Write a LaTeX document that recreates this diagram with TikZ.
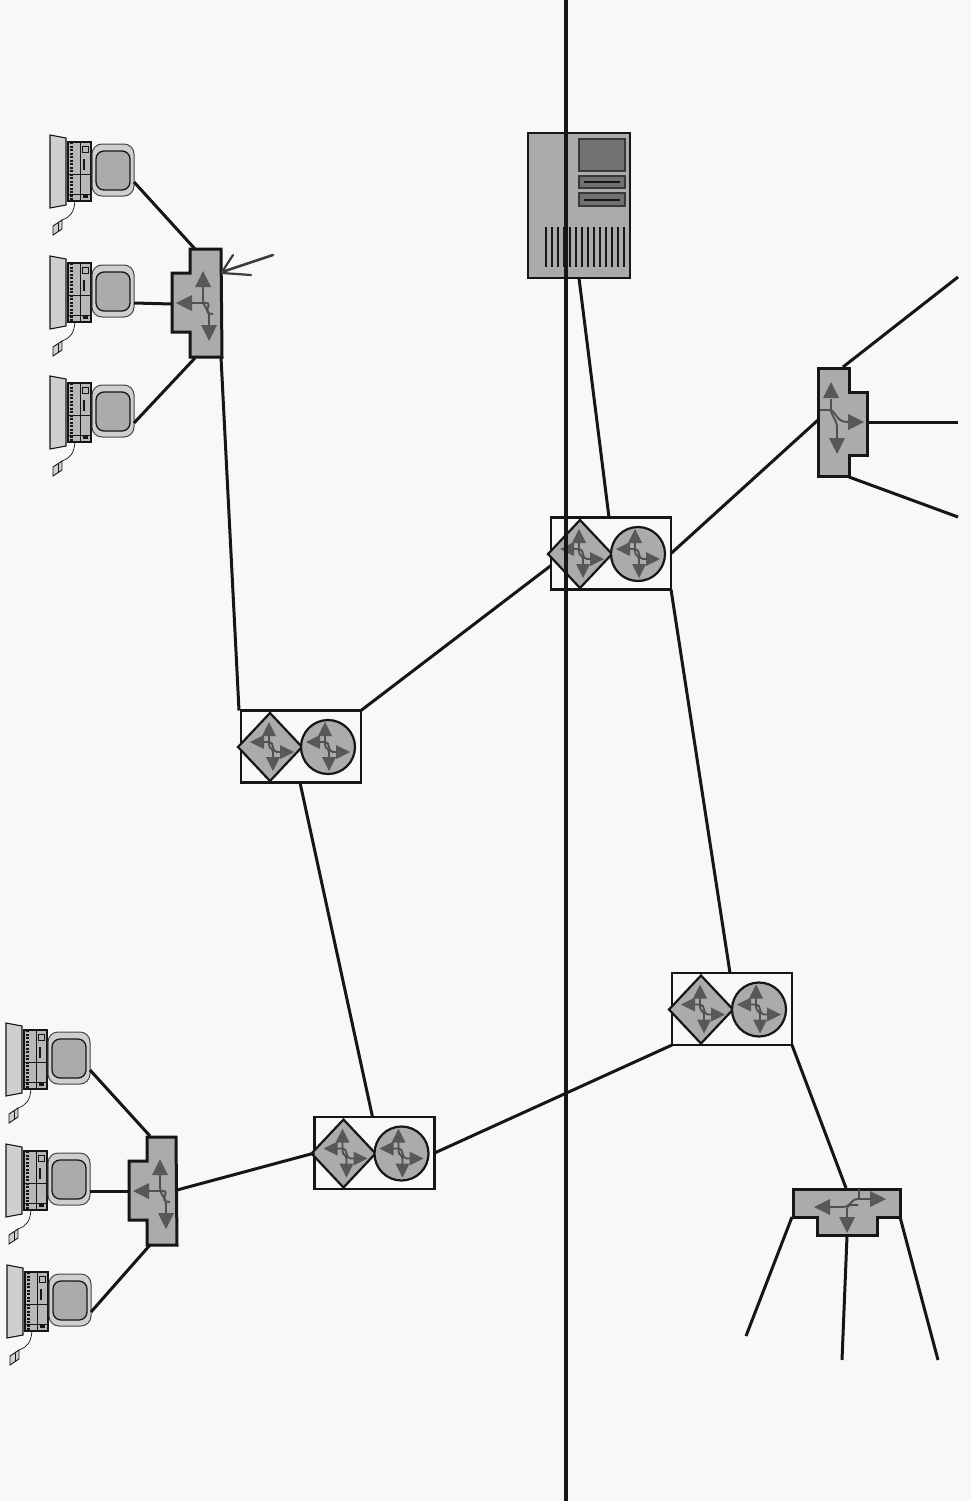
\documentclass[tikz,border=0pt]{standalone}
\usetikzlibrary{calc}
\definecolor{paper}{HTML}{F8F8F7}
\definecolor{screen}{HTML}{ABABAB}
\definecolor{lightscr}{HTML}{CFCFCF}
\definecolor{ink}{HTML}{161616}
\definecolor{hdc}{HTML}{585858}
\tikzset{
  wire/.style={draw=ink,line width=3pt},
  shp/.style={draw=ink,line width=3pt,fill=screen,line join=miter},
  hd/.style={fill=hdc},
  stem/.style={draw=ink!75,line width=1.9pt},
  rbox/.style={draw=ink,line width=2.8pt,fill=paper,minimum width=120pt,minimum height=72pt,inner sep=0pt,outer sep=0pt},
}
\newcommand{\hU}[2]{\fill[hd] (#1,#2) -- ++(-8,16) -- ++(16,0) -- cycle;}
\newcommand{\hD}[2]{\fill[hd] (#1,#2) -- ++(-8,-16) -- ++(16,0) -- cycle;}
\newcommand{\hL}[2]{\fill[hd] (#1,#2) -- ++(16,-8) -- ++(0,16) -- cycle;}
\newcommand{\hR}[2]{\fill[hd] (#1,#2) -- ++(-16,-8) -- ++(0,16) -- cycle;}
\tikzset{
  routicon/.pic={
    \draw[stem] (-1,-13) -- (-1,-3) .. controls (-1,3) and (3,0) .. (3,6) -- (3,13);
    \draw[stem] (-8,-5) -- (-1,-5) .. controls (5,-5) and (1,5) .. (7,5) -- (13,5);
    \fill[hd] (-1,-25) -- ++(-7,14) -- ++(14,0) -- cycle;
    \fill[hd] (3,24) -- ++(-7,-14) -- ++(14,0) -- cycle;
    \fill[hd] (-20,-5) -- ++(14,-7) -- ++(0,14) -- cycle;
    \fill[hd] (24,5) -- ++(-14,-7) -- ++(0,14) -- cycle;
  },
  computer/.pic={
    \draw[draw=ink,line width=1.1pt,fill=lightscr] (0,0) -- (16,3) -- (16,70) -- (0,73) -- cycle;
    \draw[draw=ink,line width=1.1pt,fill=screen!85] (18,7) rectangle (41,66);
    \draw[ink,line width=0.9pt] (30,7) -- (30,66) (18,39) -- (41,39) (18,59) -- (41,59);
    \draw[ink,line width=3pt,dash pattern=on 2pt off 1.5pt] (21,7) -- (21,66);
    \draw[ink,line width=0.8pt] (32,11) rectangle (38,17);
    \draw[ink,line width=1.5pt] (34,24) -- (34,35);
    \fill[ink] (33,59) rectangle (38,63);
    \draw[draw=ink!80,line width=1pt,fill=lightscr,rounded corners=10pt] (42,9) rectangle (84,61);
    \draw[draw=ink,line width=1.3pt,fill=screen,rounded corners=8pt] (46,16) rectangle (80,55);
    \draw[ink,line width=0.7pt] (25,66) .. controls (24,78) and (20,82) .. (12,85);
    \draw[draw=ink,line width=0.9pt,fill=lightscr] (3,91) -- (12,85) -- (12,94) -- (3,100) -- cycle;
    \draw[ink,line width=0.8pt] (8,88) -- (8,97);
    \coordinate (-a) at (84,47);
  },
}
\newcommand{\router}[3]{%
  \node[rbox] (#1) at (#2,#3) {};
  \draw[draw=ink,line width=2.2pt,fill=screen] ($(#2,#3)+(-63,0.5)$) -- ++(32,-34) -- ++(32,34) -- ++(-32,34) -- cycle;
  \draw[draw=ink,line width=2.2pt,fill=screen] ($(#2,#3)+(27,0.5)$) circle (27pt);
  \pic at ($(#2,#3)+(-31,0.5)$) {routicon};
  \pic at ($(#2,#3)+(25,0.5)$) {routicon};
}
\begin{document}
\begin{tikzpicture}[x=1pt,y=-1pt]
\useasboundingbox (0,0) rectangle (971,1501);
\fill[paper] (0,0) rectangle (971,1501);

\coordinate (sw1a) at (195,249);
\coordinate (sw1b) at (172,304);
\coordinate (sw1c) at (195,358);
\coordinate (sw1d) at (221,357);
\coordinate (sw4a) at (150,1136);
\coordinate (sw4b) at (128,1191);
\coordinate (sw4c) at (150,1245);
\coordinate (sw4d) at (177,1190);
\coordinate (sw2a) at (843,367);
\coordinate (sw2b) at (867,422);
\coordinate (sw2c) at (849,477);
\coordinate (sw2d) at (818,420);
\coordinate (sw3a) at (846,1188);
\coordinate (sw3b) at (792,1217);
\coordinate (sw3c) at (847,1236);
\coordinate (sw3d) at (900,1217);
\coordinate (free1) at (958,277);
\coordinate (free2) at (958,422);
\coordinate (free3) at (958,517);
\coordinate (free4) at (746,1336);
\coordinate (free5) at (842,1360);
\coordinate (free6) at (938,1360);
\coordinate (srv) at (579,278);
\coordinate (linetop) at (566,0);
\coordinate (linebot) at (566,1501);

\pic (c1) at (50,135) {computer};
\pic (c2) at (50,256) {computer};
\pic (c3) at (50,376) {computer};
\pic (c4) at (6,1023) {computer};
\pic (c5) at (6,1144) {computer};
\pic (c6) at (7,1265) {computer};

\router{r1}{301}{746.5}
\router{r2}{611}{553.5}
\router{r3}{732}{1009}
\router{r4}{374.5}{1153}

\draw[wire] (c1-a) -- (sw1a);
\draw[wire] (c2-a) -- (sw1b);
\draw[wire] (c3-a) -- (sw1c);
\draw[wire] (c4-a) -- (sw4a);
\draw[wire] (c5-a) -- (sw4b);
\draw[wire] (c6-a) -- (sw4c);
\draw[wire] (sw1d) -- ([xshift=-2pt]r1.north west);
\draw[wire] (r1.north east) -- ([yshift=-12pt]r2.west);
\draw[wire] ([xshift=-1pt]r1.south) -- ([xshift=-2pt]r4.north);
\draw[wire] (srv) -- ([xshift=-2pt]r2.north);
\draw[wire] (r2.east) -- (sw2d);
\draw[wire] (r2.south east) -- ([xshift=-2pt]r3.north);
\draw[wire] (r3.south west) -- (r4.east);
\draw[wire] (r4.west) -- (sw4d);
\draw[wire] (r3.south east) -- (sw3a);
\draw[wire] (sw2a) -- (free1);
\draw[wire] (sw2b) -- (free2);
\draw[wire] (sw2c) -- (free3);
\draw[wire] (sw3b) -- (free4);
\draw[wire] (sw3c) -- (free5);
\draw[wire] (sw3d) -- (free6);

\draw[shp] (190,249) -- (221,249) -- (222,357) -- (190,357) -- (190,332) -- (172,332) -- (172,273) -- (190,273) -- cycle;
\draw[stem] (203,286) -- (203,298) .. controls (203,310) and (209,306) .. (209,318) -- (209,326);
\draw[stem] (192,303) -- (206,303) .. controls (214,303) and (200,314) .. (213,314);
\hU{203}{271}\hD{209}{341}\hL{176}{303}

\draw[shp] (147,1137) -- (176,1137) -- (177,1245) -- (147,1245) -- (147,1220) -- (129,1220) -- (129,1161) -- (147,1161) -- cycle;
\draw[stem] (160,1174) -- (160,1186) .. controls (160,1198) and (166,1194) .. (166,1206) -- (166,1214);
\draw[stem] (149,1191) -- (163,1191) .. controls (171,1191) and (157,1202) .. (170,1202);
\hU{160}{1159}\hD{166}{1229}\hL{133}{1191}

\draw[shp] (818,368) -- (849,368) -- (849,392) -- (867,392) -- (867,455) -- (849,455) -- (849,476) -- (818,476) -- cycle;
\draw[stem] (831,399) -- (831,408) .. controls (831,418) and (837,418) .. (837,428) -- (837,439);
\draw[stem] (820,410) -- (828,410) .. controls (838,410) and (834,422) .. (848,422);
\hU{831}{382}\hD{837}{454}\hR{864}{422}

\draw[shp] (793,1189) -- (900,1189) -- (900,1217) -- (877,1217) -- (877,1235) -- (817,1235) -- (817,1217) -- (793,1217) -- cycle;
\draw[stem] (830,1207) -- (842,1207) .. controls (852,1207) and (850,1199) .. (858,1199) -- (870,1199);
\draw[stem] (847,1217) -- (847,1210) .. controls (847,1204) and (850,1205) .. (858,1205) (859,1189) -- (859,1199);
\hL{814}{1207}\hR{886}{1199}\hD{847}{1233}

\draw[draw=hdc!70!black,line width=2.6pt,line cap=round] (222,272) -- (273,255);
\draw[draw=hdc!70!black,line width=2.2pt,line cap=round] (222,272) -- (233,255);
\draw[draw=hdc!70!black,line width=2.2pt,line cap=round] (222,273) -- (251,275);

\draw[draw=ink,line width=1.6pt,fill=screen] (528,133) rectangle (630,278);
\draw[draw=ink!85,line width=2pt,fill=hdc!85] (579,139) rectangle (625,171);
\draw[draw=ink!85,line width=1.4pt,fill=hdc!85] (579,176) rectangle (625,188);
\draw[draw=ink!85,line width=1.4pt,fill=hdc!85] (579,193) rectangle (625,206);
\draw[ink,line width=1.1pt] (584,182) -- (620,182) (584,200) -- (620,200);
\foreach \k in {0,...,13}{\draw[ink,line width=1.4pt] ({546+6*\k},227) -- ({546+6*\k},267);}

\draw[draw=ink,line width=3.6pt] (linetop) -- (linebot);
\end{tikzpicture}
\end{document}
